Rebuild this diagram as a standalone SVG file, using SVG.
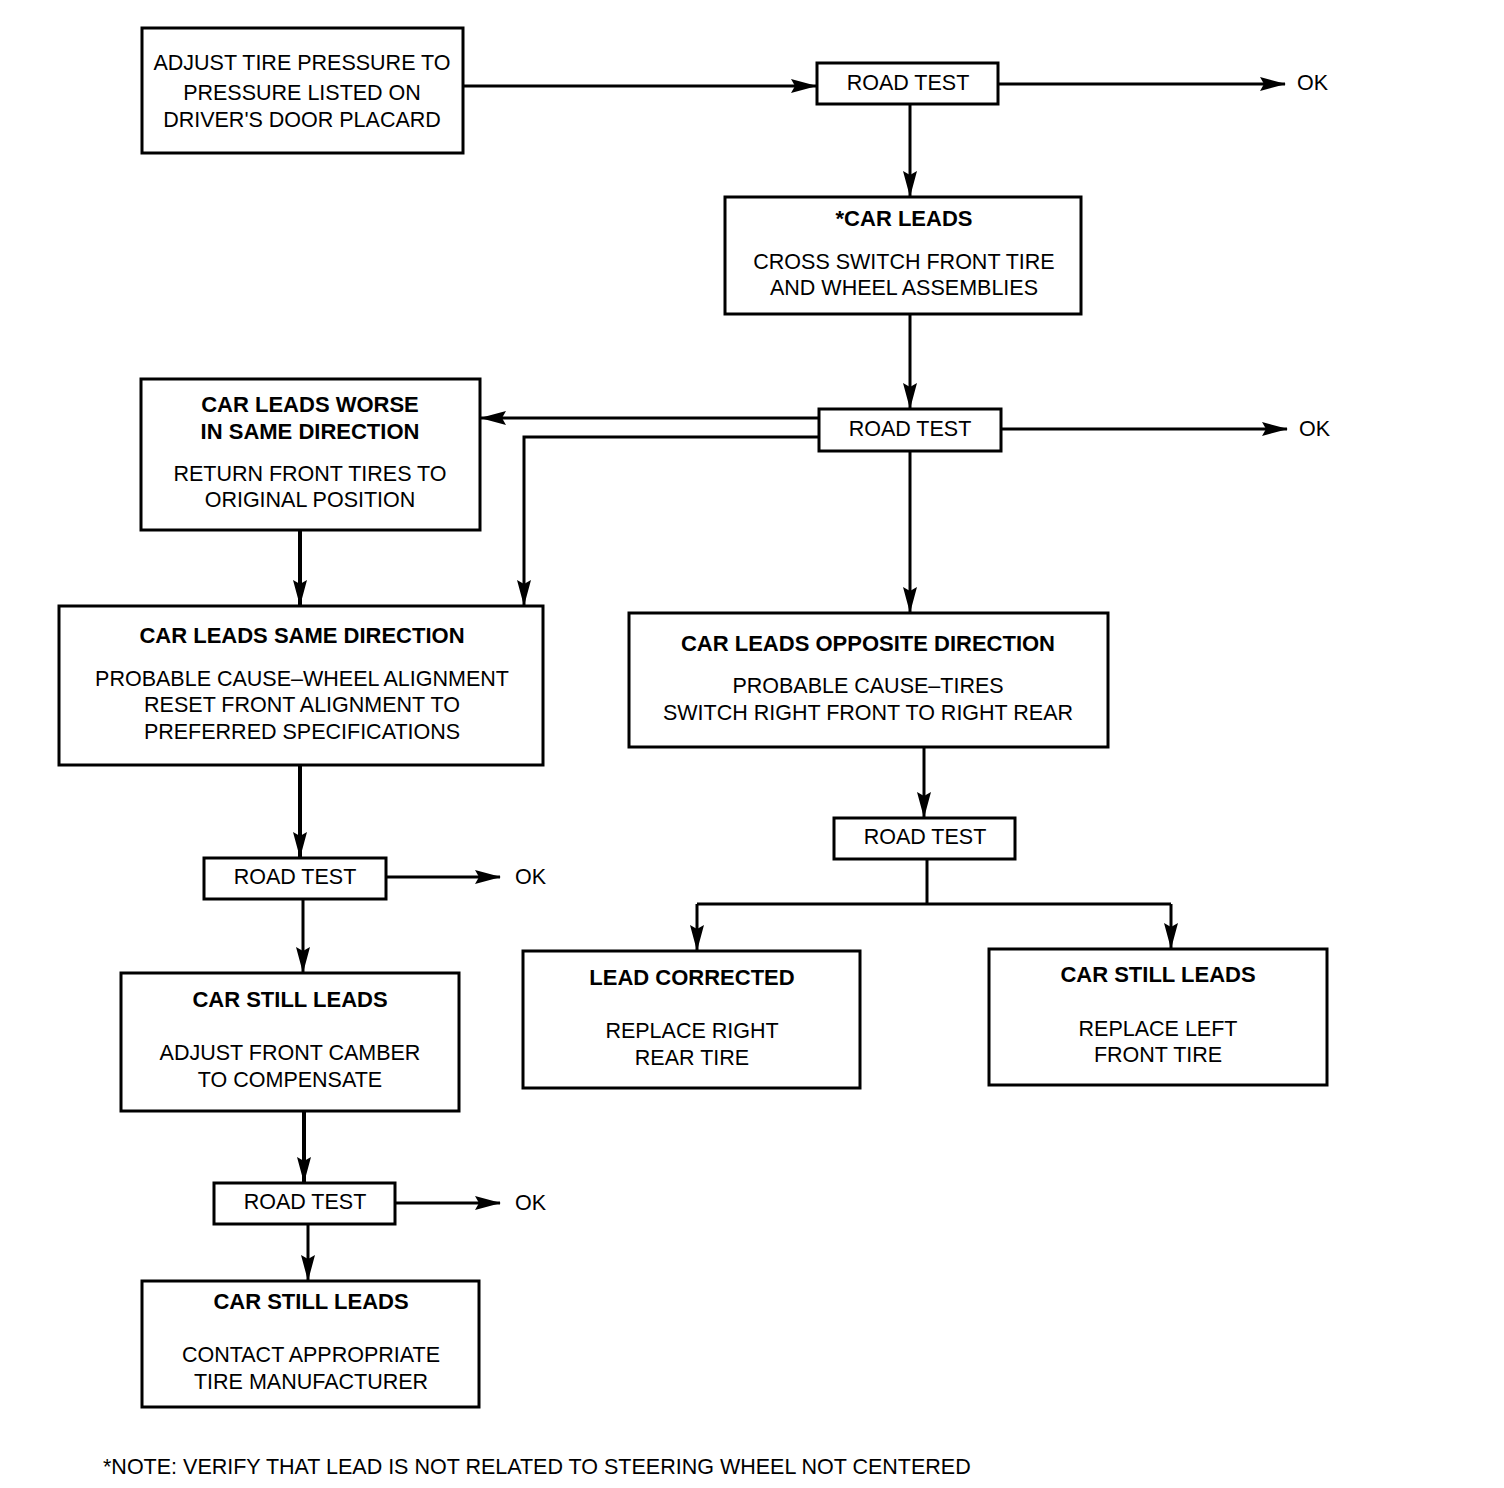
<svg xmlns="http://www.w3.org/2000/svg" width="1504" height="1488" viewBox="0 0 1504 1488">
<style>
.box{fill:#fff;stroke:#000;stroke-width:3}
.ln{fill:none;stroke:#000;stroke-width:3}
.thk{stroke-width:4}
text{font-family:"Liberation Sans",Arial,sans-serif;font-size:21.5px;fill:#000;text-anchor:middle}
.b{font-weight:bold;font-size:22px}
.l{text-anchor:start}
</style>
<defs>
<marker id="ah" markerWidth="26" markerHeight="14" refX="25" refY="7" orient="auto" markerUnits="userSpaceOnUse">
<path d="M0,0 L26,7 L0,14 L4,7 Z" fill="#000"/>
</marker>
</defs>
<rect width="1504" height="1488" fill="#fff"/>
<g id="connectors">
<path class="ln" d="M463,86 H816" marker-end="url(#ah)"/>
<path class="ln" d="M998,84 H1285" marker-end="url(#ah)"/>
<path class="ln" d="M910,104 V196" marker-end="url(#ah)"/>
<path class="ln" d="M910,314 V408" marker-end="url(#ah)"/>
<path class="ln" d="M1001,429 H1287" marker-end="url(#ah)"/>
<path class="ln" d="M819,418 H481" marker-end="url(#ah)"/>
<path class="ln" d="M819,437 H524 V605" marker-end="url(#ah)"/>
<path class="ln thk" d="M300,530 V605" marker-end="url(#ah)"/>
<path class="ln" d="M910,451 V612" marker-end="url(#ah)"/>
<path class="ln" d="M924,747 V817" marker-end="url(#ah)"/>
<path class="ln" d="M927,859 V904"/>
<path class="ln" d="M697,904 H1171"/>
<path class="ln" d="M697,904 V950" marker-end="url(#ah)"/>
<path class="ln" d="M1171,904 V948" marker-end="url(#ah)"/>
<path class="ln thk" d="M300,765 V857" marker-end="url(#ah)"/>
<path class="ln" d="M386,877 H500" marker-end="url(#ah)"/>
<path class="ln" d="M303,899 V972" marker-end="url(#ah)"/>
<path class="ln thk" d="M304,1111 V1182" marker-end="url(#ah)"/>
<path class="ln" d="M395,1203 H500" marker-end="url(#ah)"/>
<path class="ln" d="M308,1224 V1280" marker-end="url(#ah)"/>
</g>
<g id="adjust">
<rect class="box" x="142" y="28" width="321" height="125"/>
<text x="302" y="70">ADJUST TIRE PRESSURE TO</text>
<text x="302" y="100">PRESSURE LISTED ON</text>
<text x="302" y="127">DRIVER'S DOOR PLACARD</text>
</g>
<g id="rt1">
<rect class="box" x="817" y="63" width="181" height="41"/>
<text x="908" y="90">ROAD TEST</text>
</g>
<text class="l" x="1297" y="90">OK</text>
<g id="carleads">
<rect class="box" x="725" y="197" width="356" height="117"/>
<text class="b" x="904" y="226">*CAR LEADS</text>
<text x="904" y="269">CROSS SWITCH FRONT TIRE</text>
<text x="904" y="295">AND WHEEL ASSEMBLIES</text>
</g>
<g id="rt2">
<rect class="box" x="819" y="409" width="182" height="42"/>
<text x="910" y="436">ROAD TEST</text>
</g>
<text class="l" x="1299" y="436">OK</text>
<g id="worse">
<rect class="box" x="141" y="379" width="339" height="151"/>
<text class="b" x="310" y="412">CAR LEADS WORSE</text>
<text class="b" x="310" y="439">IN SAME DIRECTION</text>
<text x="310" y="481">RETURN FRONT TIRES TO</text>
<text x="310" y="507">ORIGINAL POSITION</text>
</g>
<g id="same">
<rect class="box" x="59" y="606" width="484" height="159"/>
<text class="b" x="302" y="643">CAR LEADS SAME DIRECTION</text>
<text x="302" y="686">PROBABLE CAUSE–WHEEL ALIGNMENT</text>
<text x="302" y="712">RESET FRONT ALIGNMENT TO</text>
<text x="302" y="739">PREFERRED SPECIFICATIONS</text>
</g>
<g id="opposite">
<rect class="box" x="629" y="613" width="479" height="134"/>
<text class="b" x="868" y="651">CAR LEADS OPPOSITE DIRECTION</text>
<text x="868" y="693">PROBABLE CAUSE–TIRES</text>
<text x="868" y="720">SWITCH RIGHT FRONT TO RIGHT REAR</text>
</g>
<g id="rt3">
<rect class="box" x="834" y="818" width="181" height="41"/>
<text x="925" y="844">ROAD TEST</text>
</g>
<g id="corrected">
<rect class="box" x="523" y="951" width="337" height="137"/>
<text class="b" x="692" y="985">LEAD CORRECTED</text>
<text x="692" y="1038">REPLACE RIGHT</text>
<text x="692" y="1065">REAR TIRE</text>
</g>
<g id="stillright">
<rect class="box" x="989" y="949" width="338" height="136"/>
<text class="b" x="1158" y="982">CAR STILL LEADS</text>
<text x="1158" y="1036">REPLACE LEFT</text>
<text x="1158" y="1062">FRONT TIRE</text>
</g>
<g id="rt4">
<rect class="box" x="204" y="858" width="182" height="41"/>
<text x="295" y="884">ROAD TEST</text>
</g>
<text class="l" x="515" y="884">OK</text>
<g id="camber">
<rect class="box" x="121" y="973" width="338" height="138"/>
<text class="b" x="290" y="1007">CAR STILL LEADS</text>
<text x="290" y="1060">ADJUST FRONT CAMBER</text>
<text x="290" y="1087">TO COMPENSATE</text>
</g>
<g id="rt5">
<rect class="box" x="214" y="1183" width="181" height="41"/>
<text x="305" y="1209">ROAD TEST</text>
</g>
<text class="l" x="515" y="1210">OK</text>
<g id="contact">
<rect class="box" x="142" y="1281" width="337" height="126"/>
<text class="b" x="311" y="1309">CAR STILL LEADS</text>
<text x="311" y="1362">CONTACT APPROPRIATE</text>
<text x="311" y="1389">TIRE MANUFACTURER</text>
</g>
<text class="l" x="103" y="1474">*NOTE: VERIFY THAT LEAD IS NOT RELATED TO STEERING WHEEL NOT CENTERED</text>
</svg>
